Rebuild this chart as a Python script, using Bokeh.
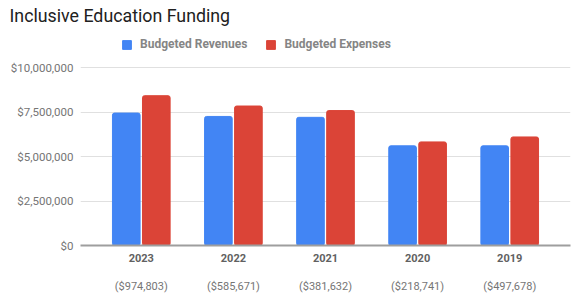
from bokeh.plotting import figure
from bokeh.models import ColumnDataSource, FixedTicker, LinearAxis, Range1d, Legend, LegendItem
from bokeh.embed import file_html
from bokeh.resources import INLINE

years = ["2023", "2022", "2021", "2020", "2019"]
revenues = [7440000, 7250000, 7200000, 5600000, 5600000]
expenses = [8414803, 7835671, 7581632, 5818741, 6097678]
shortfall = [974803, 585671, 381632, 218741, 497678]
y_ticks = [0, 2500000, 5000000, 7500000, 10000000]

FONT = "Roboto"
BLUE = "#4285F4"
RED = "#DB4437"

FW, FH = 490, 218
TOP_BORDER = 27
Y_TOP = 10000000 * FH / 178.0  # frame extends above the $10M line to host the legend

xs = list(range(len(years)))
src = ColumnDataSource(dict(
    x=xs,
    xr=[x - 0.163 for x in xs],
    xe=[x + 0.163 for x in xs],
    rev=revenues,
    exp=expenses,
))

p = figure(frame_width=FW, frame_height=FH, output_backend="svg", toolbar_location=None,
           x_range=Range1d(-0.66, 4.66), y_range=Range1d(0, Y_TOP),
           x_axis_location=None, y_axis_location=None,
           min_border_left=80, min_border_right=18, min_border_top=TOP_BORDER, min_border_bottom=10)
p.outline_line_color = None
p.background_fill_color = "white"
p.border_fill_color = "white"

p.title.text = "Inclusive Education Funding"
p.title.text_font = FONT
p.title.text_font_size = "17.8px"
p.title.text_font_style = "normal"
p.title.text_color = "#212121"
p.title.offset = -71
p.title.standoff = 4

r1 = p.vbar(x="xr", top="rev", width=0.30, source=src, color=BLUE, border_radius=2)
r2 = p.vbar(x="xe", top="exp", width=0.30, source=src, color=RED, border_radius=2)

# y axis
yaxis = LinearAxis(ticker=FixedTicker(ticks=y_ticks))
yaxis.major_label_overrides = {t: "$" + format(t, ",") for t in y_ticks}
yaxis.axis_line_color = None
yaxis.major_tick_line_color = None
yaxis.minor_tick_line_color = None
yaxis.major_label_text_font = FONT
yaxis.major_label_text_font_size = "11.5px"
yaxis.major_label_text_color = "#757575"
yaxis.major_label_standoff = 1
p.add_layout(yaxis, "left")

p.ygrid.ticker = FixedTicker(ticks=y_ticks)
p.ygrid.grid_line_color = "#e0e0e0"
p.xgrid.grid_line_color = None

# x axis (years)
xaxis = LinearAxis(ticker=FixedTicker(ticks=xs))
xaxis.major_label_overrides = {i: y for i, y in enumerate(years)}
xaxis.axis_line_color = "#9e9e9e"
xaxis.axis_line_width = 2
xaxis.major_tick_line_color = None
xaxis.minor_tick_line_color = None
xaxis.major_label_text_font = FONT
xaxis.major_label_text_font_size = "11px"
xaxis.major_label_text_font_style = "bold"
xaxis.major_label_text_color = "#616161"
xaxis.major_label_standoff = 2
p.add_layout(xaxis, "below")

# second row: shortfall
xaxis2 = LinearAxis(ticker=FixedTicker(ticks=xs))
xaxis2.major_label_overrides = {i: "($" + format(v, ",") + ")" for i, v in enumerate(shortfall)}
xaxis2.axis_line_color = None
xaxis2.major_tick_line_color = None
xaxis2.minor_tick_line_color = None
xaxis2.major_label_text_font = FONT
xaxis2.major_label_text_font_size = "11px"
xaxis2.major_label_text_color = "#757575"
xaxis2.major_label_standoff = 9
p.add_layout(xaxis2, "below")

legend = Legend(items=[LegendItem(label="Budgeted Revenues", renderers=[r1]),
                       LegendItem(label="Budgeted Expenses", renderers=[r2])],
                orientation="horizontal", location=(41, 194))
legend.label_text_font = FONT
legend.label_text_font_size = "12px"
legend.label_text_font_style = "bold"
legend.label_text_color = "#858585"
legend.glyph_width = 11
legend.glyph_height = 11
legend.spacing = 18
legend.label_standoff = 8
legend.border_line_color = None
legend.background_fill_alpha = 0
legend.margin = 0
legend.padding = 6
p.add_layout(legend, "center")

open("out.html", "w").write(file_html(p, INLINE))
